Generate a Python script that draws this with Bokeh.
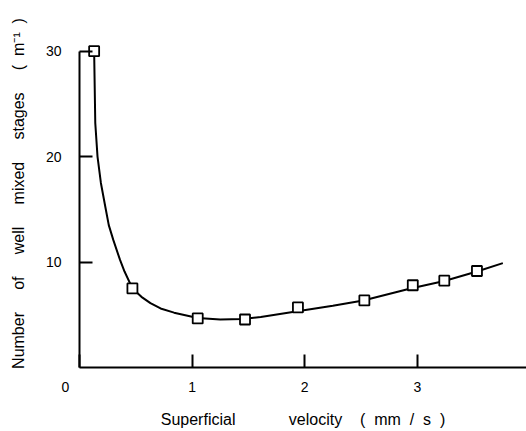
from bokeh.plotting import figure
from bokeh.models import Range1d, FixedTicker
from bokeh.embed import file_html
from bokeh.resources import INLINE

# Measured points (open squares)
pt_x = [0.13, 0.47, 1.05, 1.47, 1.94, 2.53, 2.96, 3.24, 3.53]
pt_y = [30.0, 7.5, 4.65, 4.55, 5.7, 6.36, 7.8, 8.23, 9.15]

# Fitted curve
curve_x = [0.13, 0.14, 0.16, 0.19, 0.23, 0.26, 0.30, 0.36, 0.40, 0.47, 0.55,
           0.63, 0.72, 0.84, 1.05, 1.25, 1.45, 1.61, 1.95, 2.25, 2.52, 2.94,
           3.24, 3.53, 3.76]
curve_y = [30.0, 23.2, 20.0, 17.5, 15.2, 13.5, 12.1, 10.2, 9.1, 7.5, 6.7,
           6.1, 5.6, 5.2, 4.7, 4.55, 4.6, 4.78, 5.35, 5.85, 6.36, 7.5,
           8.2, 9.1, 9.9]

x_ticks = [0, 1, 2, 3, 4]
y_ticks = [10, 20, 30]

FONT = "Liberation Sans"
NB = "\u00a0"

p = figure(width=526, height=431, output_backend="svg", toolbar_location=None,
           x_range=Range1d(0, 3.97), y_range=Range1d(0, 33),
           min_border_left=79, min_border_right=0, min_border_top=19,
           min_border_bottom=64)
p.outline_line_color = None
p.xgrid.grid_line_color = None
p.ygrid.grid_line_color = None
p.background_fill_color = "white"
p.border_fill_color = "white"

p.line(curve_x, curve_y, line_color="black", line_width=2)
p.scatter(pt_x, pt_y, marker="square", size=10, line_color="black",
          line_width=1.8, fill_color="white")

for ax in (p.xaxis[0], p.yaxis[0]):
    ax.axis_line_width = 2
    ax.axis_line_color = "black"
    ax.major_tick_line_width = 2
    ax.major_tick_line_color = "black"
    ax.major_tick_in = 13
    ax.major_tick_out = 0
    ax.minor_tick_line_color = None
    ax.major_label_text_font = FONT
    ax.major_label_text_font_size = "14px"
    ax.major_label_text_color = "black"
    ax.axis_label_text_font = FONT
    ax.axis_label_text_font_style = "normal"
    ax.axis_label_text_color = "black"
    ax.axis_label_text_font_size = "16px"

p.xaxis.ticker = FixedTicker(ticks=x_ticks)
p.yaxis.ticker = FixedTicker(ticks=y_ticks)
p.xaxis.major_label_overrides = {0: "0" + "\u2003\u2003"}
p.xaxis.bounds = (0, 4)
p.yaxis.bounds = (0, 30)
p.xaxis.major_label_standoff = 11
p.yaxis.major_label_standoff = 18
p.xaxis.axis_label = ("Superficial" + NB * 12 + "velocity" + NB * 4 + "(" + NB * 2
                      + "mm" + NB * 2 + "/" + NB * 2 + "s" + NB * 2 + ")")
p.yaxis.axis_label = ("Number" + NB * 5 + "of" + NB * 5 + "well" + NB * 5
                      + "mixed" + NB * 5 + "stages" + NB * 5 + "(" + NB * 2
                      + "m\u207b\u00b9" + NB * 2 + ")")
p.xaxis.axis_label_standoff = 13
p.yaxis.axis_label_standoff = 16

open("out.html", "w").write(file_html(p, INLINE))
